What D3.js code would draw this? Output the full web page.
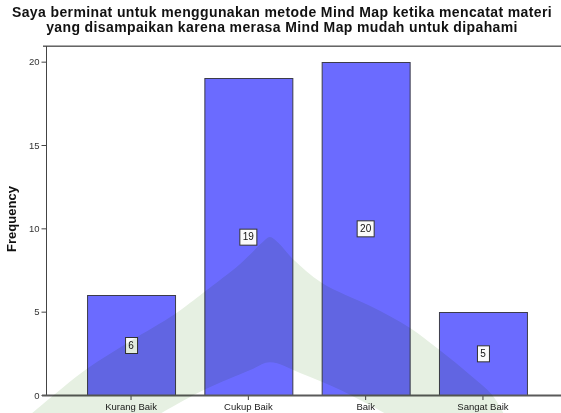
<!DOCTYPE html>
<html>
<head>
<meta charset="utf-8">
<script src="https://cdn.jsdelivr.net/npm/d3@7/dist/d3.min.js"></script>
<style>
  html, body { margin: 0; padding: 0; background: #fff; }
  svg { display: block; font-family: "Liberation Sans", Arial, sans-serif; }
</style>
</head>
<body>
<svg id="chart" width="561" height="413"></svg>
<script>
// Frequency table of responses
const categories = ["Kurang Baik", "Cukup Baik", "Baik", "Sangat Baik"];
const frequencies = [6, 19, 20, 5];
const yTicks = [0, 5, 10, 15, 20];
const titleLines = [
  "Saya berminat untuk menggunakan metode Mind Map ketika mencatat materi",
  "yang disampaikan karena merasa Mind Map mudah untuk dipahami"
];
const yAxisTitle = "Frequency";

const W = 561, H = 413;
const plot = { left: 46, top: 46, bottom: 395, right: 568 };

const svg = d3.select("#chart");

const x = d3.scaleBand()
  .domain(categories)
  .range([plot.left, plot.right])
  .paddingInner(0.25)
  .paddingOuter(0.35);

const y = d3.scaleLinear()
  .domain([0, 21])
  .range([plot.bottom, plot.top - 1]);

// Title
svg.append("g").selectAll("text")
  .data(titleLines)
  .join("text")
  .attr("x", 282)
  .attr("y", (d, i) => 17 + i * 15)
  .attr("text-anchor", "middle")
  .attr("font-size", "14px")
  .attr("letter-spacing", "0.38px")
  .attr("font-weight", "bold")
  .attr("fill", "#111")
  .text(d => d);

// Bars
svg.append("g").selectAll("rect")
  .data(frequencies)
  .join("rect")
  .attr("x", (d, i) => x(categories[i]) + 0.5)
  .attr("y", d => Math.round(y(d)) + 0.5)
  .attr("width", x.bandwidth())
  .attr("height", d => plot.bottom - Math.round(y(d)))
  .attr("fill", "#6b6bff")
  .attr("stroke", "#3c3c4a")
  .attr("stroke-width", 1);

// Frame lines
svg.append("line")
  .attr("x1", 43).attr("x2", W).attr("y1", plot.top - 0.5).attr("y2", plot.top - 0.5)
  .attr("stroke", "#aaa").attr("stroke-width", 1);
svg.append("line")
  .attr("x1", 43).attr("x2", W).attr("y1", plot.top + 0.5).attr("y2", plot.top + 0.5)
  .attr("stroke", "#666").attr("stroke-width", 1);

// Y axis
const yAxis = d3.axisLeft(y)
  .tickValues(yTicks)
  .tickSize(5)
  .tickPadding(2)
  .tickFormat(d3.format("d"));
const gy = svg.append("g")
  .attr("transform", `translate(${plot.left + 0.5},0)`)
  .call(yAxis);
gy.select(".domain").remove();
gy.selectAll(".tick line").attr("stroke", "#444");
gy.selectAll(".tick text")
  .attr("font-size", "9.5px")
  .attr("fill", "#333")
  .attr("font-family", "'Liberation Sans', Arial, sans-serif");
svg.append("line")
  .attr("x1", plot.left + 0.5).attr("x2", plot.left + 0.5)
  .attr("y1", plot.top).attr("y2", plot.bottom)
  .attr("stroke", "#444").attr("stroke-width", 1);

// X axis
const xAxis = d3.axisBottom(x).tickSize(5).tickPadding(3);
const gx = svg.append("g")
  .attr("transform", `translate(0,${plot.bottom})`)
  .call(xAxis);
gx.select(".domain").remove();
gx.selectAll(".tick line").attr("stroke", "#444");
gx.selectAll(".tick text")
  .attr("font-size", "9.5px")
  .attr("fill", "#222")
  .attr("font-family", "'Liberation Sans', Arial, sans-serif");
svg.append("line")
  .attr("x1", 42).attr("x2", W).attr("y1", plot.bottom + 0.5).attr("y2", plot.bottom + 0.5)
  .attr("stroke", "#5a5a5a").attr("stroke-width", 2);

// Y axis title
svg.append("text")
  .attr("transform", `translate(16,219) rotate(-90)`)
  .attr("text-anchor", "middle")
  .attr("font-size", "13px")
  .attr("font-weight", "bold")
  .attr("fill", "#111")
  .text(yAxisTitle);

// Value labels at half bar height
const labels = svg.append("g").selectAll("g")
  .data(frequencies)
  .join("g")
  .attr("transform", (d, i) => `translate(${x(categories[i]) + x.bandwidth() / 2},${y(d / 2)})`);
labels.append("text")
  .attr("text-anchor", "middle")
  .attr("dy", "0.35em")
  .attr("font-size", "10px")
  .attr("fill", "#111")
  .text(d => d);
labels.each(function () {
  const g = d3.select(this);
  const w = g.select("text").node().getComputedTextLength();
  g.insert("rect", "text")
    .attr("x", Math.round(-w / 2 - 3) + 0.5)
    .attr("y", -7.5)
    .attr("width", Math.round(w + 6))
    .attr("height", 16)
    .attr("fill", "#fafafa")
    .attr("stroke", "#333")
    .attr("stroke-width", 1);
});

// Faint background emblem laid over the chart
const emblemOuter = [
  [0.040, 1.02], [0.075, 0.980], [0.155, 0.893], [0.232, 0.826], [0.312, 0.760],
  [0.364, 0.707], [0.428, 0.639], [0.467, 0.588], [0.481, 0.574], [0.496, 0.588],
  [0.522, 0.627], [0.574, 0.685], [0.660, 0.741], [0.731, 0.794], [0.783, 0.847],
  [0.838, 0.908], [0.877, 0.956], [0.905, 1.02]
];
const emblemInner = [
  [0.262, 1.02], [0.364, 0.944], [0.446, 0.896], [0.481, 0.877], [0.535, 0.903],
  [0.606, 0.944], [0.712, 1.02]
];
const px = p => [p[0] * W, p[1] * H];
const outerLine = d3.line().curve(d3.curveCatmullRom.alpha(0.5));
const innerLine = d3.line().curve(d3.curveCatmullRom.alpha(0.5));
const pathD = outerLine(emblemOuter.map(px)) + "Z" + innerLine(emblemInner.map(px)) + "Z";
svg.append("path")
  .attr("d", pathD)
  .attr("fill-rule", "evenodd")
  .attr("fill", "rgb(230,240,226)")
  .style("mix-blend-mode", "multiply");
</script>
</body>
</html>
